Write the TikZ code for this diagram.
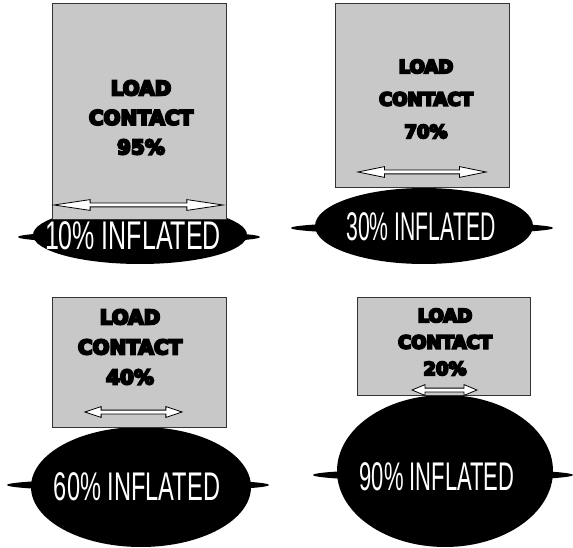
\documentclass[tikz,border=0pt]{standalone}
\usepackage{fontspec}
\usetikzlibrary{shapes.arrows}
\newfontfamily\heavyfont{DejaVu Sans Bold}
\newfontfamily\tallfont{Liberation Sans}
\newcommand\heavytext[1]{\special{pdf:code 2 Tr 2 w}#1\special{pdf:code 0 Tr 0.4 w}}
\definecolor{boxgray}{RGB}{200,200,200}

\begin{document}
\begin{tikzpicture}[x=1pt, y=-1pt,
	loadbox/.style={fill=boxgray, draw=black!80, line width=1pt},
	tire/.style={fill=black},
	loadtext/.style 2 args={font=\heavyfont\fontsize{#1}{#2}\selectfont, align=center, inner sep=0pt},
	inflated/.style={font=\tallfont\fontsize{40}{40}\selectfont, text=white, inner sep=0pt},
	gauge/.style={double arrow, draw=black, fill=white, line width=0.8pt, inner sep=1.5pt, double arrow head extend=3.5pt}]
	\useasboundingbox (0,0) rectangle (573,548);

	\fill[tire] (139,237) ellipse [x radius=121pt, y radius=6pt];
	\fill[tire] (140,235) ellipse [x radius=107pt, y radius=29pt];
	\draw[loadbox] (52,4) rectangle (226,220);
	\node[gauge, minimum height=169pt, double arrow tip angle=17] (w95) at (138.5,205) {};
	\node[loadtext={20}{29.5}] (c95) at (141,117.5) {\heavytext{LOAD\\CONTACT\\95\%}};
	\node[inflated, xscale=0.625] (i10) at (133,236) {10\% INFLATED};

	\fill[tire] (422,228) ellipse [x radius=131pt, y radius=6pt];
	\fill[tire] (424,226) ellipse [x radius=109pt, y radius=38pt];
	\draw[loadbox] (335,4) rectangle (509,188);
	\node[gauge, minimum height=128pt, double arrow tip angle=23] (w70) at (422,172) {};
	\node[loadtext={18}{32.5}] (c70) at (426,99) {\heavytext{LOAD\\CONTACT\\70\%}};
	\node[inflated, xscale=0.53] (i30) at (421,227) {30\% INFLATED};

	\fill[tire] (138,485) ellipse [x radius=131pt, y radius=6pt];
	\fill[tire] (141,487) ellipse [x radius=110pt, y radius=60pt];
	\draw[loadbox] (52,297) rectangle (226,427);
	\node[gauge, minimum height=97pt, double arrow tip angle=37] (w40) at (133.5,412) {};
	\node[loadtext={20}{30}] (c40) at (130,347) {\heavytext{LOAD\\CONTACT\\40\%}};
	\node[inflated, xscale=0.59] (i60) at (137,487) {60\% INFLATED};

	\fill[tire] (443,475) ellipse [x radius=130pt, y radius=6pt];
	\fill[tire] (445,471) ellipse [x radius=108pt, y radius=76pt];
	\draw[loadbox] (357,297) rectangle (530,395);
	\node[gauge, minimum height=65pt, double arrow tip angle=45] (w20) at (444.5,390) {};
	\node[loadtext={18}{26.5}] (c20) at (445,342) {\heavytext{LOAD\\CONTACT\\20\%}};
	\node[inflated, xscale=0.55] (i90) at (437,477) {90\% INFLATED};
\end{tikzpicture}
\end{document}
